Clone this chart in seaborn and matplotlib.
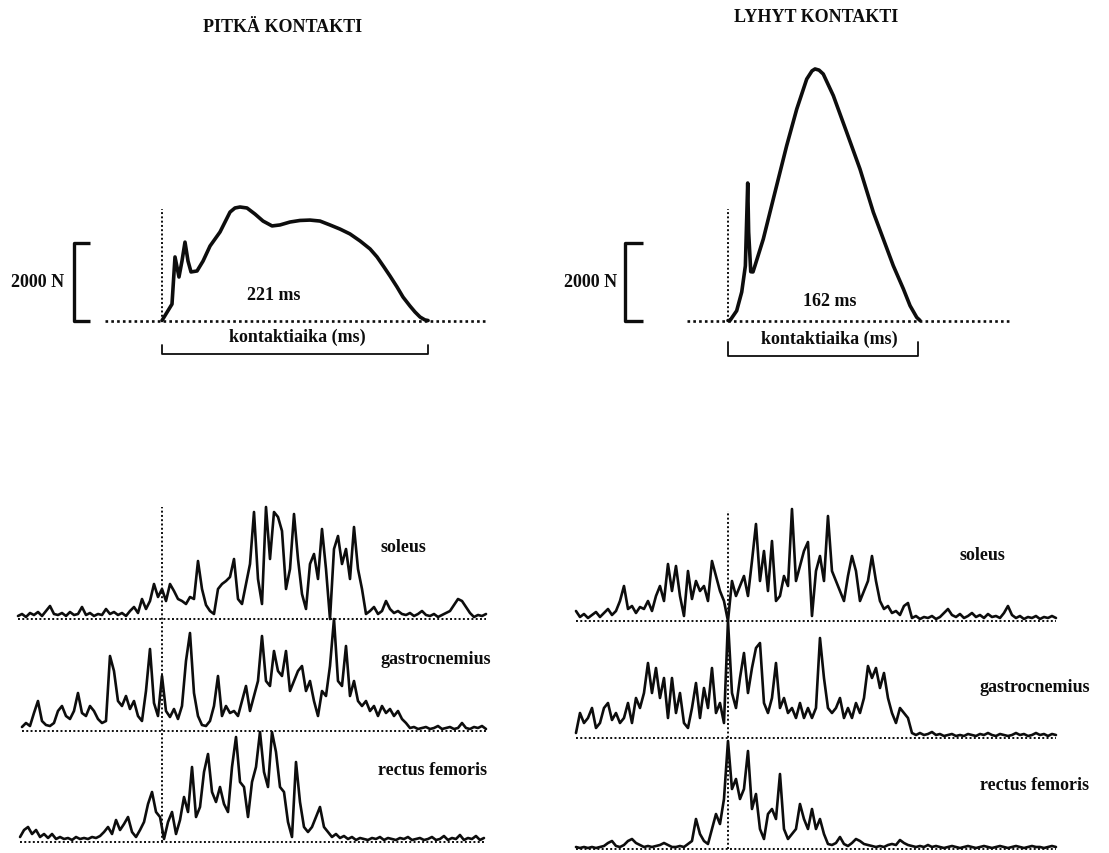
import numpy as np
import matplotlib
matplotlib.use("Agg")
import matplotlib.pyplot as plt
import seaborn as sns

# ---------------------------------------------------------------------------
# Ground reaction force during the contact (time in ms from touchdown, force in N)
long_t = [0, 8.3, 10.8, 14.1, 16.6, 19.1, 21.6, 24.1, 29.1, 34.1, 39.9, 48.2,
          56.5, 60.6, 64.8, 70.6, 77.2, 83.9, 91.4, 98.0, 106.3, 114.6, 122.9,
          131.2, 139.5, 147.8, 156.1, 164.5, 172.8, 178.6, 184.4, 189.4, 195.2,
          200.2, 206.0, 210.1, 214.3, 218.4, 221.0]
long_F = [0, 420, 1630, 1115, 1525, 2010, 1525, 1245, 1270, 1525, 1910, 2270,
          2780, 2885, 2910, 2885, 2730, 2550, 2425, 2450, 2525, 2565, 2575,
          2550, 2450, 2345, 2220, 2040, 1835, 1630, 1370, 1140, 860,
          600, 370, 220, 90, 15, 0]

short_t = [0, 1.7, 7.4, 11.7, 14.8, 16.8, 17.6, 19.4, 21.3, 23.0, 30.1, 38.6,
           50.0, 58.6, 67.1, 71.6, 74.2, 77.6, 81.2, 89.8, 101.2, 112.5, 123.9,
           132.4, 140.9, 149.5, 155.2, 160.9, 163.7]
short_F = [0, 0, 250, 730, 1400, 3525, 2270, 1250, 1245, 1405, 2090, 3115,
           4480, 5420, 6190, 6400, 6450, 6420, 6320, 5765, 4825, 3885, 2775,
           2090, 1405, 810, 380, 80, 0]

contact_ms = [221, 162]
titles = ["PITKÄ KONTAKTI", "LYHYT KONTAKTI"]
muscles = ["soleus", "gastrocnemius", "rectus femoris"]
scale_N = 2000

# ---------------------------------------------------------------------------
# Rectified EMG, long contact (arbitrary units), with recording windows in ms
long_soleus_span = (-119.6, 269.1)
long_soleus = [3, 5, 2, 6, 4, 7, 3, 8, 13, 5, 4, 6, 3, 7, 4, 5, 12, 4, 6, 3,
               5, 4, 10, 5, 7, 4, 6, 3, 8, 12, 6, 20, 10, 18, 35, 22, 30, 18,
               35, 28, 20, 18, 15, 22, 20, 58, 30, 14, 8, 5, 30, 35, 38, 42,
               60, 20, 15, 35, 55, 107, 40, 15, 112, 60, 107, 102, 88, 30, 50,
               105, 60, 25, 10, 55, 65, 40, 90, 50, 0, 70, 83, 55, 70, 40, 92,
               50, 30, 5, 8, 12, 5, 8, 18, 10, 6, 8, 5, 4, 6, 3, 5, 8, 4, 3, 5,
               2, 4, 6, 8, 14, 20, 18, 12, 6, 2, 4, 3, 5]

long_gastroc_span = (-116.3, 269.1)
long_gastroc = [4, 8, 5, 18, 30, 10, 6, 5, 8, 20, 25, 15, 12, 20, 38, 18, 15,
                25, 20, 12, 8, 10, 75, 60, 30, 25, 35, 22, 30, 15, 10, 40, 82,
                28, 15, 55, 20, 14, 22, 12, 25, 70, 98, 38, 15, 6, 5, 10, 25,
                55, 15, 25, 18, 20, 15, 30, 45, 20, 35, 50, 95, 50, 45, 80, 60,
                55, 80, 40, 50, 60, 65, 40, 50, 30, 15, 40, 35, 65, 112, 50, 45,
                85, 35, 50, 30, 25, 30, 20, 25, 15, 25, 18, 22, 15, 20, 12, 8,
                3, 4, 2, 3, 4, 2, 3, 5, 2, 3, 4, 2, 3, 8, 3, 2, 4, 3, 5, 2]

long_rectus_span = (-117.9, 267.4)
long_rectus = [5, 12, 15, 8, 12, 5, 8, 4, 8, 3, 5, 3, 4, 2, 5, 3, 4, 3, 5, 4,
               6, 10, 15, 8, 22, 12, 18, 25, 10, 5, 12, 20, 38, 50, 30, 25, 3,
               20, 30, 8, 22, 45, 30, 75, 25, 35, 70, 88, 50, 40, 55, 38, 30,
               75, 105, 60, 55, 25, 60, 75, 110, 70, 55, 110, 90, 55, 50, 20, 5,
               80, 40, 15, 10, 15, 25, 35, 15, 10, 5, 8, 4, 6, 3, 5, 2, 4, 3, 2,
               4, 3, 5, 2, 4, 3, 2, 4, 3, 5, 2, 3, 4, 2, 3, 5, 2, 3, 6, 2, 4, 3,
               7, 2, 4, 3, 6, 2, 4]

# Rectified EMG, short contact
short_soleus_span = (-129.6, 279.6)
short_soleus = [10, 4, 7, 3, 6, 9, 4, 8, 12, 6, 10, 20, 35, 12, 15, 8, 14, 12,
                20, 10, 25, 35, 20, 57, 30, 55, 25, 5, 50, 22, 40, 30, 35, 20,
                60, 45, 30, 20, 0, 40, 25, 35, 45, 25, 60, 97, 40, 70, 30, 80,
                20, 25, 45, 35, 112, 40, 55, 70, 79, 5, 50, 65, 40, 105, 50, 40,
                30, 20, 45, 65, 50, 20, 30, 40, 65, 40, 20, 12, 15, 8, 10, 6, 15,
                18, 3, 5, 2, 4, 3, 5, 2, 4, 8, 12, 6, 4, 7, 3, 5, 8, 4, 6, 3, 7,
                4, 5, 3, 8, 15, 6, 3, 5, 2, 4, 3, 5, 2, 4, 3, 5, 3]

short_gastroc_span = (-129.6, 279.6)
short_gastroc = [5, 25, 15, 20, 30, 10, 15, 30, 35, 18, 25, 15, 20, 35, 15, 40,
                 30, 45, 75, 45, 70, 40, 60, 20, 60, 25, 45, 15, 10, 30, 55, 20,
                 50, 30, 70, 25, 35, 15, 117, 45, 30, 60, 85, 45, 70, 90, 95, 35,
                 25, 40, 75, 30, 40, 25, 30, 20, 35, 20, 30, 20, 30, 100, 60, 30,
                 25, 30, 40, 20, 30, 20, 35, 25, 40, 72, 60, 70, 50, 65, 40, 25,
                 15, 30, 25, 20, 5, 3, 5, 3, 4, 6, 3, 4, 2, 3, 4, 2, 3, 2, 4, 3,
                 2, 4, 3, 5, 3, 2, 4, 3, 2, 3, 5, 3, 4, 2, 3, 5, 3, 4, 2, 4, 3]

short_rectus_span = (-129.6, 279.6)
short_rectus = [2, 1, 2, 1, 2, 1, 2, 3, 6, 8, 3, 2, 4, 8, 10, 6, 4, 2, 3, 2, 3,
                4, 6, 4, 2, 2, 3, 2, 5, 8, 30, 15, 8, 5, 20, 35, 25, 50, 108, 60,
                70, 50, 60, 98, 40, 55, 20, 10, 35, 40, 30, 75, 20, 10, 15, 20,
                45, 30, 20, 40, 20, 30, 15, 5, 4, 6, 12, 5, 3, 6, 10, 8, 5, 4, 3,
                2, 3, 2, 4, 5, 4, 9, 6, 4, 3, 2, 3, 2, 4, 2, 3, 2, 1, 2, 3, 2, 1,
                2, 3, 2, 1, 2, 3, 2, 1, 2, 3, 2, 1, 2, 3, 2, 1, 2, 3, 2, 2, 1, 2,
                3, 2]

# ---------------------------------------------------------------------------
sns.set_theme(style="white")
plt.rcParams["font.family"] = ["Liberation Serif", "DejaVu Serif"]
plt.rcParams["font.weight"] = "bold"

W, H = 1109, 854
fig = plt.figure(figsize=(W / 100, H / 100), dpi=100)
fig.patch.set_facecolor("white")

INK = "#0d0d0d"
FS = 13
DOT = (0, (1.0, 1.2))


def px_axes(x0, y0, x1, y1):
    ax = fig.add_axes([x0 / W, 1 - y1 / H, (x1 - x0) / W, (y1 - y0) / H])
    ax.set_axis_off()
    return ax


def fig_text(x, y, s, **kw):
    fig.text(x / W, 1 - y / H, s, ha="center", va="center", fontsize=FS,
             fontweight="bold", color=INK, **kw)


# column geometry: pixel of touchdown and pixels per ms
columns = [
    dict(t0=162, k=1.204, fbox=(0, 150, 500, 370), ebox=(10, 490, 495, 854),
         emg_base=843, offsets=[223, 111, 0], title_xy=(283, 27)),
    dict(t0=728, k=1.173, fbox=(555, 40, 1060, 370), ebox=(565, 490, 1065, 854),
         emg_base=850, offsets=[228, 111, 0], title_xy=(816, 17)),
]
F_BASE, F_K = 321.5, 0.039   # force baseline pixel row, pixels per newton

forces = [(long_t, long_F), (short_t, short_F)]
emgs = [
    [(long_soleus, long_soleus_span), (long_gastroc, long_gastroc_span),
     (long_rectus, long_rectus_span)],
    [(short_soleus, short_soleus_span), (short_gastroc, short_gastroc_span),
     (short_rectus, short_rectus_span)],
]

# annotation placement per column (ms / N)
scale_bar_t = [(-73.0, -59.8), (-88.0, -72.6)]
scale_text = [(-103.0, 1010), (-117.0, 1010)]
dur_text = [(93, 660), (87, 500)]
kontakti_text = [(112, -400), (86, -450)]
bracket_F = [(-860, -640), (-910, -560)]
baseline_span = [(-47, 268), (-35, 240)]
label_px = [[(403, 548), (436, 660), (433, 771)],
            [(982, 556), (1035, 688), (1035, 786)]]
vline_top = [335, 338]

for c, col in enumerate(columns):
    t0, k = col["t0"], col["k"]

    # ---- force panel
    x0, y0, x1, y1 = col["fbox"]
    ax = px_axes(x0, y0, x1, y1)
    ax.set_xlim((x0 - t0) / k, (x1 - t0) / k)
    ax.set_ylim((F_BASE - y1) / F_K, (F_BASE - y0) / F_K)

    t, F = forces[c]
    bs, be = baseline_span[c]
    ax.plot([bs, be], [0, 0], color=INK, lw=1.9, ls=DOT)
    ax.plot([0, 0], [0, 2860], color=INK, lw=1.4, ls=DOT)
    sns.lineplot(x=t, y=F, ax=ax, color=INK, lw=2.6, sort=False,
                 estimator=None)

    # 2000 N scale bracket
    sx, sx2 = scale_bar_t[c]
    ax.plot([sx2, sx, sx, sx2], [scale_N, scale_N, 0, 0], color=INK,
            lw=2.4, solid_capstyle="butt", clip_on=False)
    tx, ty = scale_text[c]
    ax.text(tx, ty, f"{scale_N} N", ha="center", va="center", fontsize=FS,
            fontweight="bold", color=INK)

    dx, dy = dur_text[c]
    ax.text(dx, dy, f"{contact_ms[c]} ms", ha="center", va="center",
            fontsize=FS, fontweight="bold", color=INK)
    kx, ky = kontakti_text[c]
    ax.text(kx, ky, "kontaktiaika (ms)", ha="center", va="center",
            fontsize=FS, fontweight="bold", color=INK)
    bl, bt = bracket_F[c]
    ax.plot([0, 0, contact_ms[c], contact_ms[c]], [bt, bl, bl, bt],
            color=INK, lw=1.3, clip_on=False)

    fig_text(*col["title_xy"], titles[c])

    # ---- EMG panel
    x0, y0, x1, y1 = col["ebox"]
    ax = px_axes(x0, y0, x1, y1)
    ax.set_xlim((x0 - t0) / k, (x1 - t0) / k)
    base = col["emg_base"]
    ax.set_ylim(base - y1, base - y0)

    for m, (vals, span) in enumerate(emgs[c]):
        off = col["offsets"][m]
        tt = np.linspace(span[0], span[1], len(vals))
        ax.plot([span[0], span[1]], [off, off], color=INK, lw=1.4, ls=DOT)
        sns.lineplot(x=tt, y=np.asarray(vals, float) + off, ax=ax, color=INK,
                     lw=1.9, sort=False, estimator=None)
        fig_text(*label_px[c][m], muscles[m])

    ax.plot([0, 0], [0, vline_top[c]], color=INK, lw=1.4, ls=DOT)

fig.savefig("out.png", dpi=100, facecolor="white")
